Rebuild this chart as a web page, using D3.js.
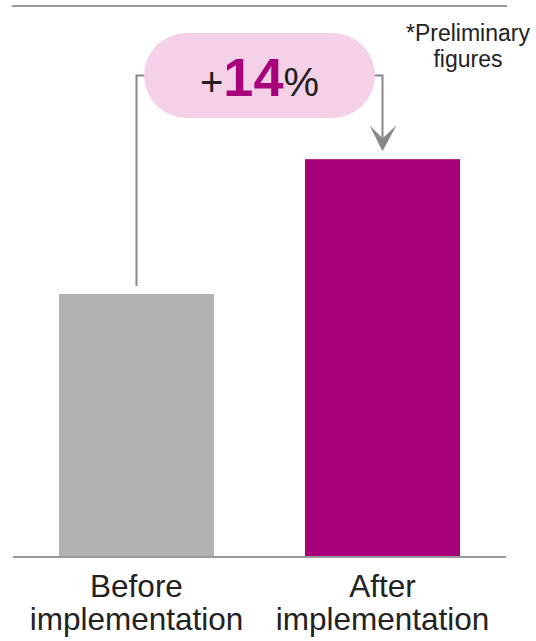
<!DOCTYPE html>
<html>
<head>
<meta charset="utf-8">
<script src="https://cdn.jsdelivr.net/npm/d3@7"></script>
<style>
  html, body { margin: 0; padding: 0; background: #fff; }
  svg { display: block; font-family: "Liberation Sans", Arial, sans-serif; }
</style>
</head>
<body>
<svg id="chart" width="536" height="641"></svg>
<script>
const categories = ["Before implementation", "After implementation"];
const labelLines = [["Before", "implementation"], ["After", "implementation"]];
const values = [100, 114];
const barColors = ["#b2b2b2", "#a8007a"];
const changeLabel = { sign: "+", number: "14", unit: "%" };
const noteLines = ["*Preliminary", "figures"];

(function () {
const svg = d3.select("#chart");
const plotLeft = 13, plotRight = 506, plotTop = 6, plotBottom = 557;

const x = d3.scaleBand().domain(categories).range([plotLeft, plotRight])
  .paddingInner(0.37).paddingOuter(0.187);
const y = d3.scaleLinear().domain([72.7, 129.9]).range([plotBottom, plotTop]);

// top frame line
svg.append("line").attr("x1", 12).attr("x2", 507).attr("y1", plotTop).attr("y2", plotTop)
  .attr("stroke", "#999").attr("stroke-width", 2);

// bars
svg.selectAll("rect.bar").data(categories).join("rect").attr("class", "bar")
  .attr("x", d => x(d)).attr("width", x.bandwidth())
  .attr("y", (d, i) => y(values[i]))
  .attr("height", (d, i) => plotBottom - y(values[i]))
  .attr("fill", (d, i) => barColors[i]);

// baseline axis
const xAxis = d3.axisBottom(x).tickSize(0).tickFormat("");
const gx = svg.append("g").attr("transform", `translate(0,${plotBottom})`).call(xAxis);
gx.select(".domain").attr("stroke", "#999").attr("stroke-width", 2)
  .attr("d", `M${plotLeft},0H${plotRight}`);

// category labels
labelLines.forEach((lines, i) => {
  const cx = x(categories[i]) + x.bandwidth() / 2;
  const t = svg.append("text").attr("text-anchor", "middle")
    .attr("font-size", 31.5).attr("fill", "#222");
  lines.forEach((ln, j) => {
    t.append("tspan").attr("x", cx).attr("y", 597 + j * 33).text(ln);
  });
});

// connector + pill
const c0 = x(categories[0]) + x.bandwidth() / 2;
const c1 = x(categories[1]) + x.bandwidth() / 2;
const midX = (c0 + c1) / 2;
const pillW = 231, pillH = 85, pillCY = 75.5;
const lineColor = "#888";

svg.append("path")
  .attr("d", `M${c0},${y(values[0]) - 8}V${pillCY}H${midX - pillW / 2 + 5}`)
  .attr("fill", "none").attr("stroke", lineColor).attr("stroke-width", 2);
svg.append("path")
  .attr("d", `M${midX + pillW / 2 - 5},${pillCY}H${c1}V${y(values[1]) - 20}`)
  .attr("fill", "none").attr("stroke", lineColor).attr("stroke-width", 2);
// arrowhead
const tipY = y(values[1]) - 8;
svg.append("path")
  .attr("d", `M${c1},${tipY}L${c1 - 13},${tipY - 26}L${c1},${tipY - 13}L${c1 + 14},${tipY - 26}Z`)
  .attr("fill", lineColor);

svg.append("rect")
  .attr("x", midX - pillW / 2).attr("y", pillCY - pillH / 2)
  .attr("width", pillW).attr("height", pillH)
  .attr("rx", pillH / 2).attr("ry", pillH / 2)
  .attr("fill", "#f4d1e6");

const lbl = svg.append("text").attr("x", midX).attr("y", 96)
  .attr("text-anchor", "middle");
lbl.append("tspan").attr("font-size", 40).attr("fill", "#231f20").text(changeLabel.sign);
lbl.append("tspan").attr("font-size", 54).attr("font-weight", "bold").attr("fill", "#a8007a").text(changeLabel.number);
lbl.append("tspan").attr("font-size", 40).attr("fill", "#231f20").text(changeLabel.unit);

// note
const note = svg.append("text").attr("text-anchor", "middle")
  .attr("font-size", 23).attr("fill", "#222");
noteLines.forEach((ln, j) => {
  note.append("tspan").attr("x", 468).attr("y", 41 + j * 26).text(ln);
});
})();
</script>
</body>
</html>
